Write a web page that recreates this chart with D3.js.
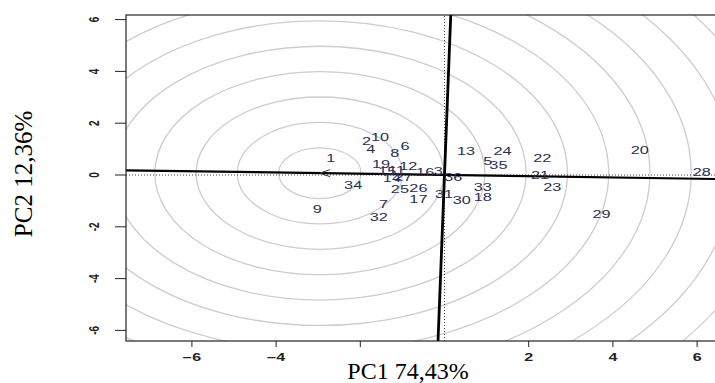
<!DOCTYPE html>
<html>
<head>
<meta charset="utf-8">
<script src="https://cdn.jsdelivr.net/npm/d3@7"></script>
<style>
  body { margin: 0; background: #fff; }
  svg { display: block; }
</style>
</head>
<body>
<script>
// genotype scores
var genotypes = ["1","2","3","4","5","6","7","8","9","10","11","12","13","14","15","16","17","18",
                 "19","20","21","22","23","24","25","26","27","28","29","30","31","32","33","34","35","36"];
var pc1 = [-2.70,-1.85,-0.15,-1.75,1.03,-0.94,-1.45,-1.18,-3.02,-1.53,-1.14,-0.86,0.51,-1.25,-1.36,-0.46,-0.62,0.91,
           -1.51,4.64,2.27,2.32,2.56,1.38,-1.06,-0.62,-0.98,6.11,3.73,0.41,-0.01,-1.56,0.91,-2.17,1.28,0.21];
var pc2 = [0.64,1.29,0.13,1.00,0.51,1.09,-1.16,0.81,-1.35,1.46,0.17,0.32,0.90,-0.13,0.13,0.10,-0.94,-0.88,
           0.42,0.94,-0.04,0.64,-0.47,0.90,-0.58,-0.54,-0.10,0.09,-1.51,-0.97,-0.77,-1.63,-0.47,-0.39,0.35,-0.09];

var xTicks = [-6,-4,-2,2,4,6];
var xTickLabels = ["\u22126","\u22124","","2","4","6"];
var yTicks = [-6,-4,-2,0,2,4,6];
var yTickLabels = ["-6","-4","-2","0","2","4","6"];

var idealPoint = [-2.96, 0.071];   // ideal genotype on the AEA
var ringRadii = [0.98,1.96,2.94,3.92,4.90,5.88,6.86,7.84,8.82,9.80,10.78,11.76];
var aeaSlope = -0.024;

var W = 715, H = 383;
var box = {left: 126, top: 15, right: 730, bottom: 341};

var x = d3.scaleLinear().domain([-6, 6]).range([191.9, 697.1]);
var y = d3.scaleLinear().domain([-6, 6]).range([330.4, 19.6]);
var xMin = x.invert(box.left), xMax = x.invert(box.right);
var yMin = y.invert(box.bottom), yMax = y.invert(box.top);

var svg = d3.select("body").append("svg")
  .attr("width", W).attr("height", H);

svg.append("clipPath").attr("id", "plotclip")
  .append("rect")
  .attr("x", box.left).attr("y", box.top)
  .attr("width", box.right - box.left).attr("height", box.bottom - box.top);

var plot = svg.append("g").attr("clip-path", "url(#plotclip)");

// concentric rings round the ideal point (circles in data units)
plot.selectAll("ellipse.ring")
  .data(ringRadii)
  .enter().append("ellipse")
  .attr("class", "ring")
  .attr("cx", x(idealPoint[0]))
  .attr("cy", y(idealPoint[1]))
  .attr("rx", function (r) { return x(r) - x(0); })
  .attr("ry", function (r) { return y(0) - y(r); })
  .attr("fill", "none")
  .attr("stroke", "#cdcdcd")
  .attr("stroke-width", 1.3);

// dotted zero lines
plot.append("line")
  .attr("x1", x(xMin)).attr("x2", x(xMax)).attr("y1", y(0)).attr("y2", y(0))
  .attr("stroke", "#444").attr("stroke-width", 1).attr("stroke-dasharray", "1,2");
plot.append("line")
  .attr("x1", x(0)).attr("x2", x(0)).attr("y1", y(yMin)).attr("y2", y(yMax))
  .attr("stroke", "#444").attr("stroke-width", 1).attr("stroke-dasharray", "1,2");

// average environment axis and its perpendicular
plot.append("line")
  .attr("x1", x(xMin)).attr("y1", y(aeaSlope * xMin))
  .attr("x2", x(xMax)).attr("y2", y(aeaSlope * xMax))
  .attr("stroke", "#000").attr("stroke-width", 2.2);
plot.append("line")
  .attr("x1", x(-aeaSlope * yMin)).attr("y1", y(yMin))
  .attr("x2", x(-aeaSlope * yMax)).attr("y2", y(yMax))
  .attr("stroke", "#000").attr("stroke-width", 2.8);

// small arrow to the ideal point
var ax = x(idealPoint[0]), ay = y(idealPoint[1]);
plot.append("path")
  .attr("d", "M" + (ax + 10) + "," + (ay - 3.5) + "L" + ax + "," + ay + "L" + (ax + 10) + "," + (ay + 3.5))
  .attr("fill", "none").attr("stroke", "#333").attr("stroke-width", 1);

// genotype labels
plot.selectAll("text.geno")
  .data(genotypes)
  .enter().append("text")
  .attr("class", "geno")
  .attr("transform", function (d, i) {
    return "translate(" + x(pc1[i]) + "," + y(pc2[i]) + ") scale(1.55,1)";
  })
  .attr("text-anchor", "middle")
  .attr("dominant-baseline", "central")
  .attr("font-family", "Liberation Sans, Arial, sans-serif")
  .attr("font-size", 10.5)
  .attr("fill", "#2b2e52")
  .text(function (d) { return d; });

// frame
svg.append("rect")
  .attr("x", box.left).attr("y", box.top)
  .attr("width", box.right - box.left).attr("height", box.bottom - box.top)
  .attr("fill", "none").attr("stroke", "#222").attr("stroke-width", 1.2);

// x axis ticks
var gx = svg.append("g");
gx.selectAll("line").data(xTicks).enter().append("line")
  .attr("x1", function (d) { return x(d); }).attr("x2", function (d) { return x(d); })
  .attr("y1", box.bottom).attr("y2", box.bottom + 6)
  .attr("stroke", "#222").attr("stroke-width", 1);
gx.selectAll("text").data(xTicks).enter().append("text")
  .attr("transform", function (d) { return "translate(" + x(d) + "," + (box.bottom + 20) + ") scale(1.6,1)"; })
  .attr("text-anchor", "middle")
  .attr("font-family", "Liberation Sans, Arial, sans-serif")
  .attr("font-size", 10)
  .attr("font-weight", "bold")
  .attr("fill", "#222")
  .text(function (d, i) { return xTickLabels[i]; });

// y axis ticks
var gy = svg.append("g");
gy.selectAll("line").data(yTicks).enter().append("line")
  .attr("x1", box.left - 11).attr("x2", box.left)
  .attr("y1", function (d) { return y(d); }).attr("y2", function (d) { return y(d); })
  .attr("stroke", "#222").attr("stroke-width", 1);
gy.selectAll("text").data(yTicks).enter().append("text")
  .attr("transform", function (d) { return "translate(" + 99 + "," + y(d) + ") scale(1.4,1) rotate(-90)"; })
  .attr("text-anchor", "middle")
  .attr("font-family", "Liberation Sans, Arial, sans-serif")
  .attr("font-size", 10)
  .attr("font-weight", "bold")
  .attr("fill", "#222")
  .text(function (d, i) { return yTickLabels[i]; });

// axis titles
svg.append("text")
  .attr("x", 408).attr("y", 379)
  .attr("text-anchor", "middle")
  .attr("font-family", "Liberation Serif, Times New Roman, serif")
  .attr("font-size", 24)
  .attr("fill", "#000")
  .text("PC1 74,43%");
svg.append("text")
  .attr("transform", "translate(32,174) rotate(-90)")
  .attr("text-anchor", "middle")
  .attr("font-family", "Liberation Serif, Times New Roman, serif")
  .attr("font-size", 25)
  .attr("fill", "#000")
  .text("PC2 12,36%");
</script>
</body>
</html>
